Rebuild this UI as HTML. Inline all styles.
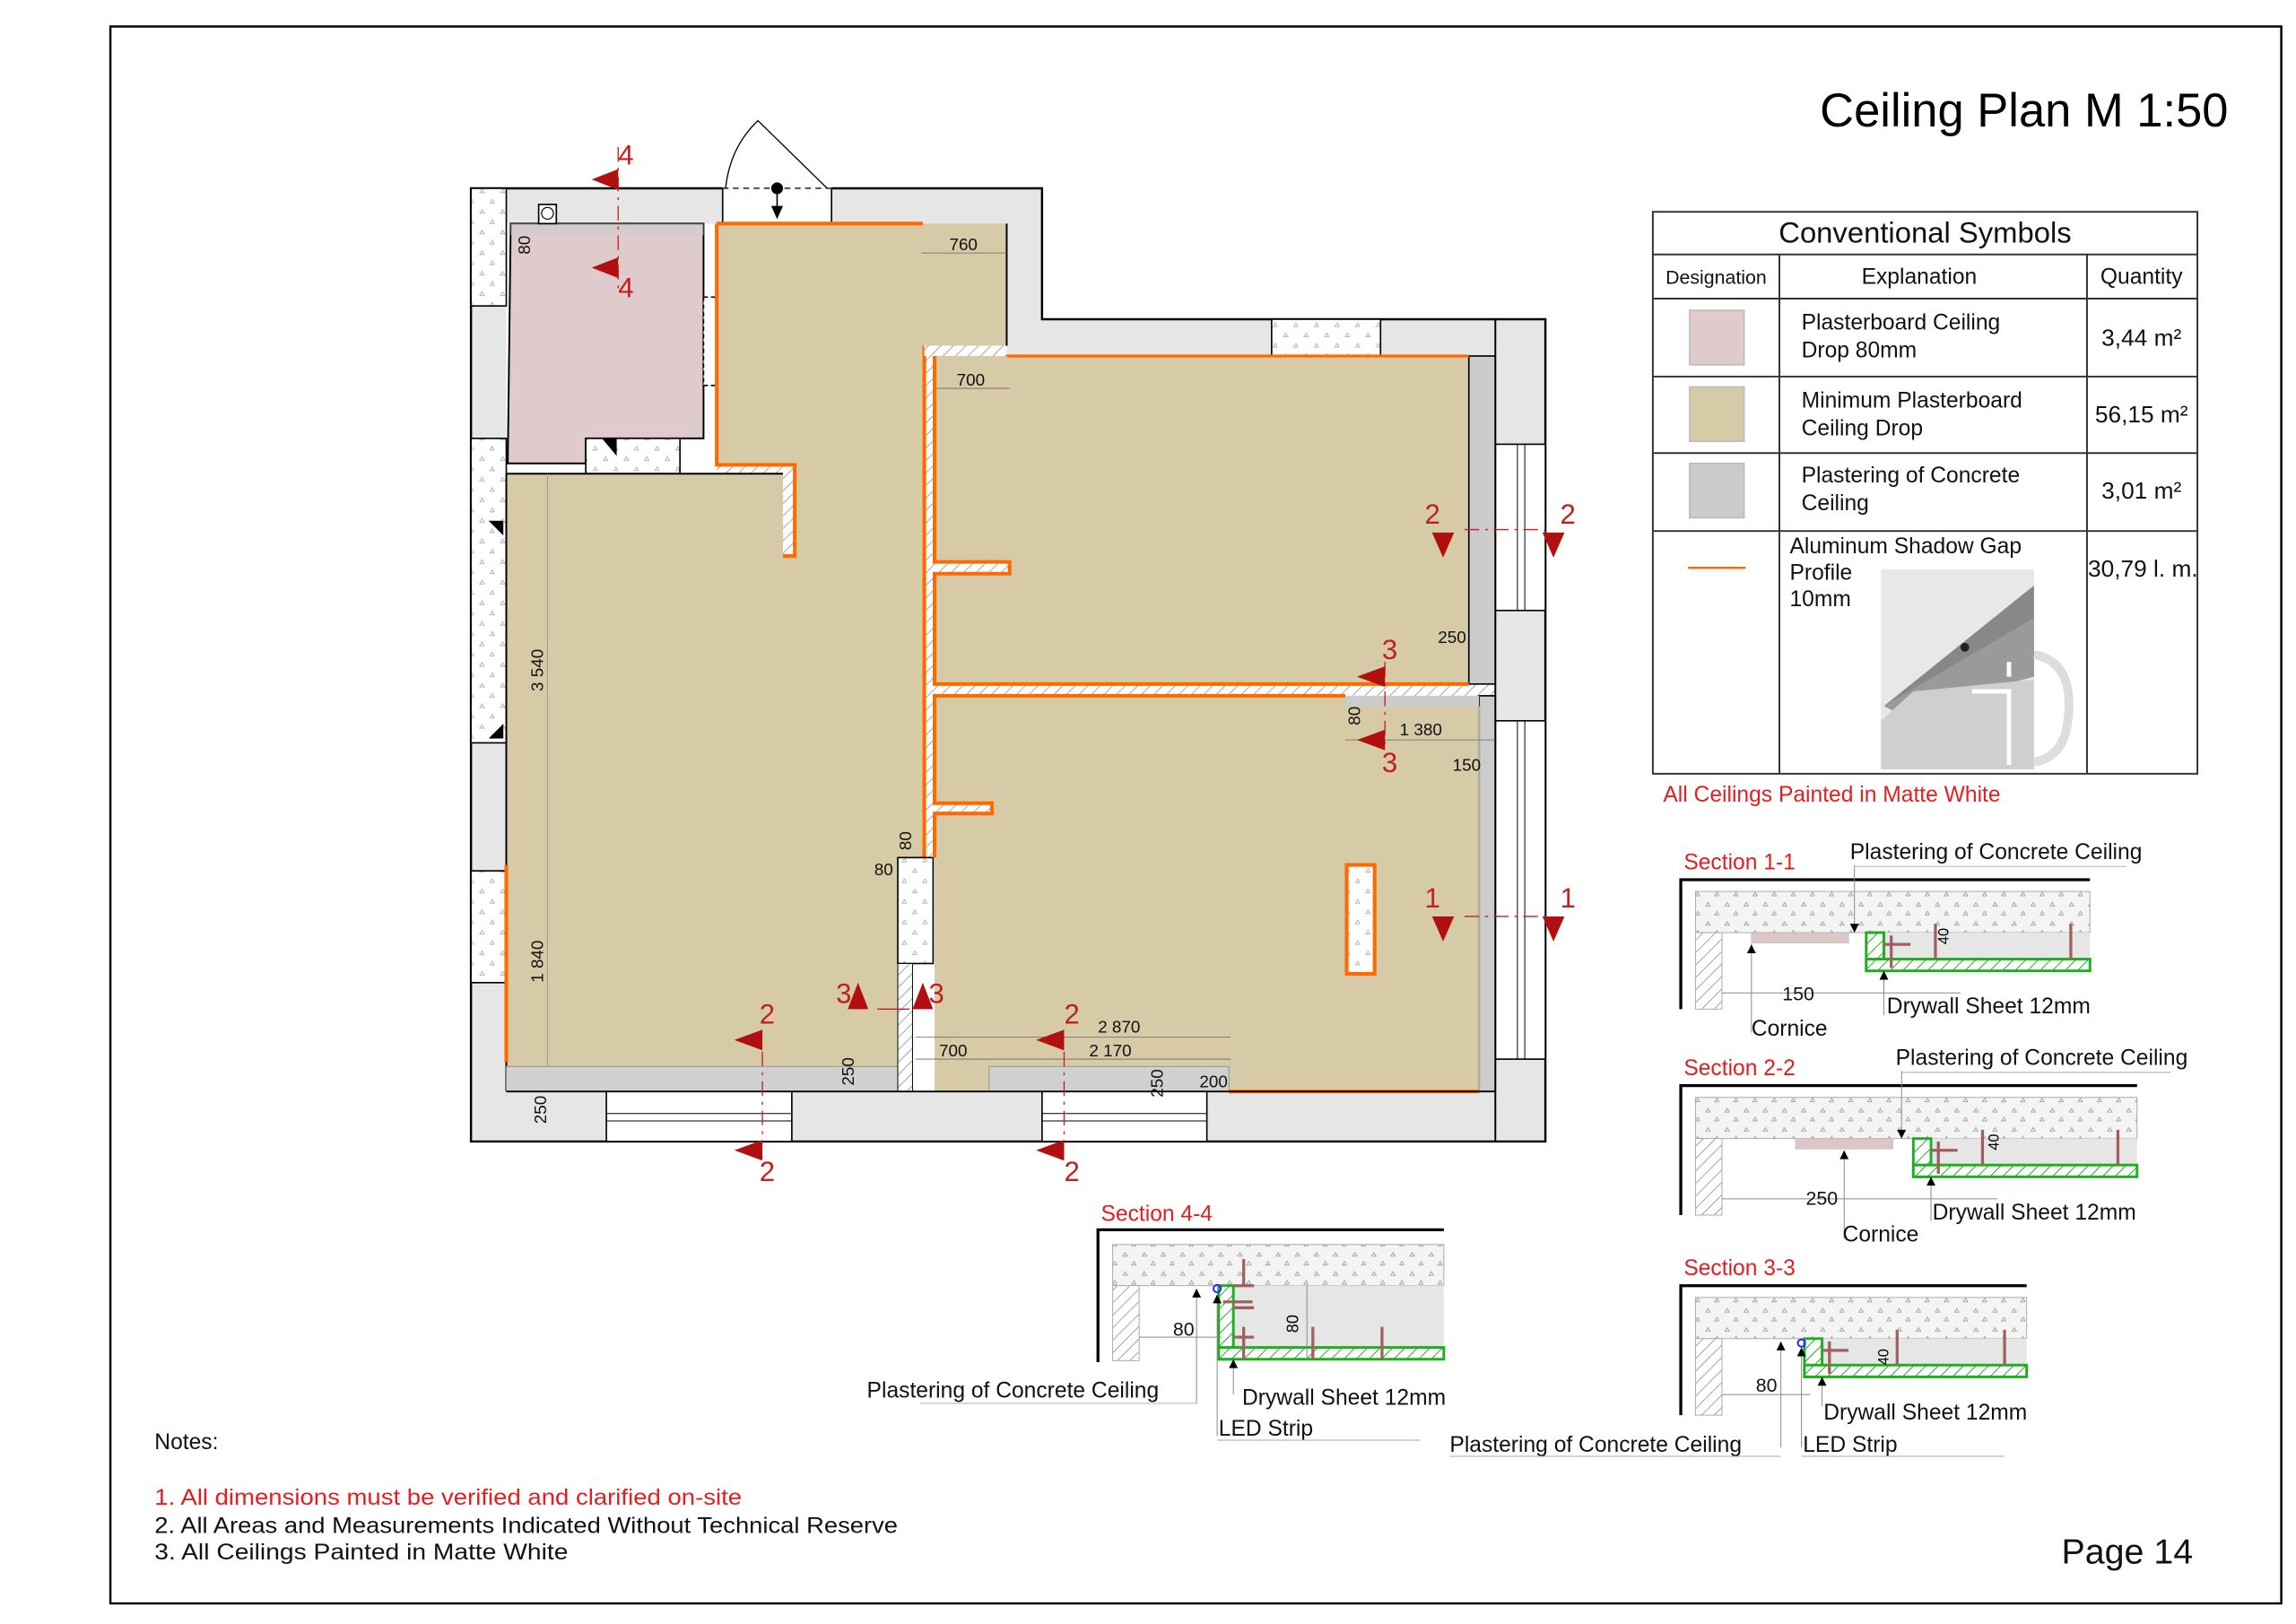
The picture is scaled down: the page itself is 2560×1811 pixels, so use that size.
<!DOCTYPE html>
<html><head><meta charset="utf-8"><style>
html,body{margin:0;padding:0;background:#fff;}
svg{display:block;}
text{font-family:"Liberation Sans",sans-serif;}
</style></head><body>
<svg width="2560" height="1811" viewBox="0 0 1560 1104" preserveAspectRatio="none" xmlns="http://www.w3.org/2000/svg">
<defs>
<pattern id="dots" width="14" height="14" patternUnits="userSpaceOnUse"><rect width="14" height="14" fill="#fff"/><path d="M4 5l1.5 -2.5l1.5 2.5z" fill="none" stroke="#aaa" stroke-width="0.5"/><path d="M11 12l1.5 -2.5l1.5 2.5z" fill="none" stroke="#aaa" stroke-width="0.5"/></pattern>
<pattern id="sdots" width="13" height="13" patternUnits="userSpaceOnUse"><rect width="13" height="13" fill="#f4f4f4"/><path d="M4 5l1.5 -2.5l1.5 2.5z" fill="none" stroke="#999" stroke-width="0.5"/><path d="M10 11l1.5 -2.5l1.5 2.5z" fill="none" stroke="#999" stroke-width="0.5"/></pattern>
<pattern id="hatch" width="6" height="6" patternUnits="userSpaceOnUse" patternTransform="rotate(45)"><rect width="6" height="6" fill="#fff"/><line x1="0" y1="0" x2="0" y2="6" stroke="#777" stroke-width="0.8"/></pattern>
<pattern id="ghatch" width="6" height="6" patternUnits="userSpaceOnUse" patternTransform="rotate(45)"><rect width="6" height="6" fill="#fff"/><line x1="0" y1="0" x2="0" y2="6" stroke="#22aa22" stroke-width="1.2"/></pattern>
</defs>
<rect width="1560" height="1104" fill="#fff"/>
<rect x="75" y="18" width="1475" height="1072" fill="none" stroke="#000" stroke-width="1.5"/>
<text x="1514" y="86" font-size="32" text-anchor="end">Ceiling Plan M 1:50</text>

<!-- PLAN -->
<polygon points="320,128 708,128 708,217 1050,217 1050,776 320,776" fill="#e6e6e6" stroke="#000" stroke-width="1.5"/>
<rect x="344" y="152" width="340" height="590" fill="#fff"/>
<rect x="628" y="242" width="388" height="500" fill="#fff"/>
<rect x="491" y="126" width="74" height="27" fill="#fff"/>
<line x1="491" y1="128" x2="491" y2="152" stroke="#000"/><line x1="565" y1="128" x2="565" y2="152" stroke="#000"/>
<line x1="491" y1="128" x2="565" y2="128" stroke="#333" stroke-dasharray="4 3"/>
<path d="M493 128 Q496 100 515 82 L562 128" fill="none" stroke="#000" stroke-width="0.8"/>
<circle cx="528" cy="128" r="4" fill="#000"/><line x1="528" y1="128" x2="528" y2="140" stroke="#000"/><path d="M524 140h8l-4 9z" fill="#000"/>
<!-- left wall windows -->
<rect x="320" y="128" width="24" height="80" fill="url(#dots)" stroke="#000"/>
<rect x="320" y="298" width="24" height="207" fill="url(#dots)" stroke="#000"/>
<rect x="320" y="592" width="24" height="76" fill="url(#dots)" stroke="#000"/>
<path d="M332 354h10v10z" fill="#000"/><path d="M332 502h10v-10z" fill="#000"/>
<rect x="864" y="217" width="74" height="25" fill="url(#dots)" stroke="#000"/>
<!-- bottom windows -->
<rect x="412" y="742" width="126" height="34" fill="#fff" stroke="#000"/>
<line x1="412" y1="757" x2="538" y2="757" stroke="#000" stroke-width="0.6"/><line x1="412" y1="762" x2="538" y2="762" stroke="#000" stroke-width="0.6"/>
<rect x="708" y="742" width="112" height="34" fill="#fff" stroke="#000"/>
<line x1="708" y1="757" x2="820" y2="757" stroke="#000" stroke-width="0.6"/><line x1="708" y1="762" x2="820" y2="762" stroke="#000" stroke-width="0.6"/>
<!-- right windows -->
<rect x="1016" y="302" width="34" height="113" fill="#fff" stroke="#000"/>
<line x1="1031" y1="302" x2="1031" y2="415" stroke="#000" stroke-width="0.6"/><line x1="1036" y1="302" x2="1036" y2="415" stroke="#000" stroke-width="0.6"/>
<rect x="1016" y="490" width="34" height="230" fill="#fff" stroke="#000"/>
<line x1="1031" y1="490" x2="1031" y2="720" stroke="#000" stroke-width="0.6"/><line x1="1036" y1="490" x2="1036" y2="720" stroke="#000" stroke-width="0.6"/>

<!-- pink -->
<polygon points="347,152 478,152 478,298 398,298 398,315 345,315" fill="#dfcacc" stroke="#000" stroke-width="1.2"/>
<rect x="347" y="152" width="131" height="8" fill="#ccc" opacity="0.6"/>
<rect x="366" y="139" width="12" height="13" fill="#fff" stroke="#000"/><circle cx="372" cy="145" r="4" fill="none" stroke="#000" stroke-width="0.7"/>
<rect x="398" y="298" width="64" height="24" fill="url(#dots)" stroke="#000"/>
<path d="M409 298h10v12z" fill="#000"/>
<rect x="478" y="202" width="9" height="60" fill="#fff" stroke="#000" stroke-dasharray="3 2"/>
<!-- beige A -->
<polygon points="487,152 684,152 684,235 628,235 628,583 610,583 610,725 344,725 344,322 532,322 532,378 540,378 540,316 487,316" fill="#d6cba6"/>
<rect x="487" y="316" width="53" height="6" fill="url(#hatch)"/><rect x="532" y="322" width="8" height="56" fill="url(#hatch)"/>
<polyline points="487,152 627,152" fill="none" stroke="#ff6a00" stroke-width="2.5"/>
<polyline points="487,152 487,316 540,316 540,378 532,378" fill="none" stroke="#ff6a00" stroke-width="2.5"/>
<line x1="344" y1="322" x2="532" y2="322" stroke="#000" stroke-width="1.2"/>
<line x1="344" y1="322" x2="344" y2="742" stroke="#000" stroke-width="1.2"/>
<line x1="344" y1="588" x2="344" y2="722" stroke="#ff6a00" stroke-width="2.5"/>
<line x1="684" y1="152" x2="684" y2="235" stroke="#000" stroke-width="1.2"/>
<line x1="372" y1="322" x2="372" y2="725" stroke="#999" stroke-width="0.6"/>
<rect x="344" y="725" width="266" height="17" fill="#d0d0d0" stroke="#888" stroke-width="0.5"/>
<!-- partitions -->
<rect x="628" y="235" width="7" height="348" fill="url(#hatch)"/>
<line x1="628" y1="235" x2="628" y2="583" stroke="#ff6a00" stroke-width="2.5"/>
<rect x="628" y="235" width="56" height="7" fill="url(#hatch)"/>
<rect x="635" y="465" width="381" height="8" fill="url(#hatch)"/>
<rect x="610" y="583" width="24" height="72" fill="url(#dots)" stroke="#000"/>
<rect x="610" y="655" width="10" height="87" fill="url(#hatch)" stroke="#000" stroke-width="0.6"/>
<!-- right top room -->
<rect x="635" y="242" width="363" height="223" fill="#d6cba6"/>
<rect x="998" y="242" width="18" height="223" fill="#ccc" stroke="#000" stroke-width="1"/>
<rect x="635" y="382" width="51" height="8" fill="url(#hatch)"/>
<polyline points="684,242 998,242" fill="none" stroke="#ff6a00" stroke-width="2"/>
<polyline points="635,242 635,382 686,382 686,390 635,390 635,465 998,465" fill="none" stroke="#ff6a00" stroke-width="2.5"/>
<!-- right bottom room -->
<rect x="635" y="473" width="370" height="269" fill="#d6cba6"/>
<rect x="1005" y="473" width="11" height="269" fill="#ccc" stroke="#000" stroke-width="1"/>
<rect x="914" y="473" width="91" height="7" fill="#ccc"/>
<rect x="672" y="725" width="163" height="17" fill="#d0d0d0" stroke="#888" stroke-width="0.5"/>
<rect x="635" y="546" width="39" height="7" fill="url(#hatch)"/>
<polyline points="914,473 635,473 635,546 674,546 674,553 635,553 635,583" fill="none" stroke="#ff6a00" stroke-width="2.5"/>
<line x1="835" y1="742" x2="1005" y2="742" stroke="#ff6a00" stroke-width="2.5"/>
<line x1="1005" y1="480" x2="1005" y2="742" stroke="#aaa" stroke-width="1"/>
<rect x="915" y="588" width="19" height="74" fill="url(#dots)" stroke="#ff6a00" stroke-width="2.5"/>
<line x1="1016" y1="217" x2="1016" y2="776" stroke="#000" stroke-width="1.2"/>
<line x1="344" y1="742" x2="1016" y2="742" stroke="#000" stroke-width="1.2"/>

<!-- dimensions -->
<g font-size="11.5" fill="#111" stroke="none">
<text x="645" y="170">760</text><line x1="626" y1="172" x2="684" y2="172" stroke="#666" stroke-width="0.5"/>
<text x="650" y="262">700</text><line x1="636" y1="264" x2="686" y2="264" stroke="#666" stroke-width="0.5"/>
<text transform="translate(369,470) rotate(-90)">3 540</text>
<text transform="translate(369,668) rotate(-90)">1 840</text>
<text transform="translate(360,173) rotate(-90)">80</text>
<text x="977" y="437">250</text>
<text transform="translate(924,493) rotate(-90)">80</text>
<text x="951" y="500">1 380</text><line x1="914" y1="503" x2="1016" y2="503" stroke="#666" stroke-width="0.5"/>
<text x="987" y="524">150</text>
<text x="594" y="595">80</text>
<text transform="translate(619,578) rotate(-90)">80</text>
<text x="746" y="702">2 870</text><line x1="622" y1="705" x2="836" y2="705" stroke="#666" stroke-width="0.5"/>
<text x="740" y="718">2 170</text><line x1="622" y1="720" x2="836" y2="720" stroke="#666" stroke-width="0.5"/>
<text x="638" y="718">700</text>
<text transform="translate(580,738) rotate(-90)">250</text>
<text transform="translate(790,746) rotate(-90)">250</text>
<text x="815" y="739">200</text>
<text transform="translate(371,764) rotate(-90)">250</text>
</g>
<!-- section markers -->
<g fill="#b01010" stroke="none">
<line x1="420" y1="100" x2="420" y2="200" stroke="#c02020" stroke-width="0.8" stroke-dasharray="10 4 2 4"/>
<path d="M402 122L420 115V129z"/><path d="M402 182L420 175V189z"/>
<path d="M973 362h15l-7.5 17z"/><path d="M1048 362h15l-7.5 17z"/>
<line x1="995" y1="360" x2="1050" y2="360" stroke="#c02020" stroke-width="0.8" stroke-dasharray="10 4 2 4"/>
<path d="M973 623h15l-7.5 17z"/><path d="M1048 623h15l-7.5 17z"/>
<line x1="995" y1="623" x2="1050" y2="623" stroke="#c02020" stroke-width="0.8" stroke-dasharray="10 4 2 4"/>
<path d="M922 460L941 453V467z"/><path d="M922 503L941 496V510z"/>
<line x1="941" y1="450" x2="941" y2="510" stroke="#c02020" stroke-width="0.8" stroke-dasharray="10 4 2 4"/>
<path d="M576 686L583 668L590 686z"/><path d="M620 686L627 668L634 686z"/>
<line x1="596" y1="686" x2="618" y2="686" stroke="#c02020" stroke-width="0.8"/>
<path d="M499 707L518 700V714z"/><path d="M499 782L518 775V789z"/>
<line x1="518" y1="715" x2="518" y2="775" stroke="#c02020" stroke-width="0.8" stroke-dasharray="10 4 2 4"/>
<path d="M704 707L723 700V714z"/><path d="M704 782L723 775V789z"/>
<line x1="723" y1="715" x2="723" y2="775" stroke="#c02020" stroke-width="0.8" stroke-dasharray="10 4 2 4"/>
</g>
<g font-size="19" fill="#c02020">
<text x="420" y="112">4</text><text x="420" y="202">4</text>
<text x="968" y="356">2</text><text x="1060" y="356">2</text>
<text x="968" y="617">1</text><text x="1060" y="617">1</text>
<text x="939" y="448">3</text><text x="939" y="525">3</text>
<text x="568" y="682">3</text><text x="631" y="682">3</text>
<text x="516" y="696">2</text><text x="516" y="803">2</text>
<text x="723" y="696">2</text><text x="723" y="803">2</text>
</g>

<!-- TABLE -->
<g stroke="#333" stroke-width="1.2" fill="none">
<rect x="1123" y="144" width="370" height="382"/>
<line x1="1123" y1="173" x2="1493" y2="173"/><line x1="1123" y1="203" x2="1493" y2="203"/>
<line x1="1123" y1="256" x2="1493" y2="256"/><line x1="1123" y1="308" x2="1493" y2="308"/><line x1="1123" y1="361" x2="1493" y2="361"/>
<line x1="1209" y1="173" x2="1209" y2="526"/><line x1="1418" y1="173" x2="1418" y2="526"/>
</g>
<rect x="1148" y="211" width="37" height="37" fill="#dfcacc" stroke="#bbb"/>
<rect x="1148" y="263" width="37" height="37" fill="#d6cba6" stroke="#bbb"/>
<rect x="1148" y="315" width="37" height="37" fill="#ccc" stroke="#bbb"/>
<line x1="1147" y1="386" x2="1186" y2="386" stroke="#ff6a00" stroke-width="1.5"/>
<g fill="#111">
<text x="1308" y="165" font-size="20" text-anchor="middle">Conventional Symbols</text>
<text x="1166" y="193" font-size="13" text-anchor="middle">Designation</text>
<text x="1304" y="193" font-size="15" text-anchor="middle">Explanation</text>
<text x="1455" y="193" font-size="15" text-anchor="middle">Quantity</text>
<text x="1224" y="224" font-size="15">Plasterboard Ceiling</text><text x="1224" y="243" font-size="15">Drop 80mm</text>
<text x="1224" y="277" font-size="15">Minimum Plasterboard</text><text x="1224" y="296" font-size="15">Ceiling Drop</text>
<text x="1224" y="328" font-size="15">Plastering of Concrete</text><text x="1224" y="347" font-size="15">Ceiling</text>
<text x="1216" y="376" font-size="15">Aluminum Shadow Gap</text><text x="1216" y="394" font-size="15">Profile</text><text x="1216" y="412" font-size="15">10mm</text>
<text x="1455" y="235" font-size="16" text-anchor="middle">3,44 m²</text>
<text x="1455" y="287" font-size="16" text-anchor="middle">56,15 m²</text>
<text x="1455" y="339" font-size="16" text-anchor="middle">3,01 m²</text>
<text x="1456" y="392" font-size="16" text-anchor="middle">30,79 l. m.</text>
</g>
<!-- profile image -->
<rect x="1278" y="387" width="104" height="136" fill="#e8e8e8"/>
<path d="M1280 480 L1382 398 L1382 460 L1300 470 Z" fill="#888"/>
<path d="M1280 480 L1382 420 L1382 460 L1290 485Z" fill="#9a9a9a"/>
<path d="M1300 470 L1382 462 L1382 523 L1278 523 L1278 490Z" fill="#cfcfcf"/>
<path d="M1340 470 h25 v50 M1365 460 v-10" stroke="#fff" stroke-width="3" fill="none"/>
<circle cx="1335" cy="440" r="3" fill="#222"/>
<path d="M1382 445 Q1410 450 1405 490 Q1402 515 1382 518" stroke="#ddd" stroke-width="6" fill="none"/>
<text x="1130" y="545" font-size="15" fill="#e02020">All Ceilings Painted in Matte White</text>

<!-- SECTION 1-1 -->
<g transform="translate(1142,598)">
<path d="M0 88V0H278" fill="none" stroke="#000" stroke-width="2"/>
<rect x="10" y="8" width="268" height="28" fill="url(#sdots)" stroke="#aaa" stroke-width="0.6"/>
<rect x="10" y="36" width="18" height="52" fill="url(#hatch)" stroke="#aaa" stroke-width="0.6"/>
<rect x="48" y="36" width="66" height="7" fill="#dcc6c6" stroke="#bbb" stroke-width="0.5"/>
<rect x="138" y="36" width="140" height="18" fill="#e6e6e6"/>
<rect x="126" y="36" width="12" height="26" fill="url(#ghatch)" stroke="#1fae1f" stroke-width="1.8"/>
<rect x="126" y="54" width="152" height="8" fill="url(#ghatch)" stroke="#1fae1f" stroke-width="1.8"/>
<path d="M138 44h18M143 38v22M173 30v24M265 30v24" stroke="#a06060" stroke-width="2"/>
<line x1="28" y1="77" x2="190" y2="77" stroke="#888" stroke-width="0.6"/>
<line x1="48" y1="44" x2="48" y2="104" stroke="#888" stroke-width="0.6"/>
<line x1="118" y1="-10" x2="118" y2="36" stroke="#888" stroke-width="0.6"/>
<line x1="138" y1="62" x2="138" y2="92" stroke="#888" stroke-width="0.6"/>
<path d="M115 30h6l-3 6z M45 50h6l-3-6z M135 68h6l-3-6z" fill="#000"/>
<text x="182" y="44" font-size="10" transform="rotate(-90 182 44)">40</text>
</g>
<g font-size="15" fill="#111">
<text x="1144" y="591" fill="#e02020">Section 1-1</text>
<text x="1257" y="584">Plastering of Concrete Ceiling</text>
<line x1="1260" y1="589" x2="1445" y2="589" stroke="#aaa" stroke-width="0.6"/>
<text x="1211" y="680" font-size="13">150</text>
<text x="1282" y="689">Drywall Sheet 12mm</text>
<text x="1190" y="704">Cornice</text>
</g>

<!-- SECTION 2-2 -->
<g transform="translate(1142,738)">
<path d="M0 88V0H310" fill="none" stroke="#000" stroke-width="2"/>
<rect x="10" y="8" width="300" height="28" fill="url(#sdots)" stroke="#aaa" stroke-width="0.6"/>
<rect x="10" y="36" width="18" height="52" fill="url(#hatch)" stroke="#aaa" stroke-width="0.6"/>
<rect x="78" y="36" width="66" height="7" fill="#dcc6c6" stroke="#bbb" stroke-width="0.5"/>
<rect x="170" y="36" width="140" height="18" fill="#e6e6e6"/>
<rect x="158" y="36" width="12" height="26" fill="url(#ghatch)" stroke="#1fae1f" stroke-width="1.8"/>
<rect x="158" y="54" width="152" height="8" fill="url(#ghatch)" stroke="#1fae1f" stroke-width="1.8"/>
<path d="M170 44h18M175 38v22M205 30v24M297 30v24" stroke="#a06060" stroke-width="2"/>
<line x1="28" y1="77" x2="215" y2="77" stroke="#888" stroke-width="0.6"/>
<line x1="111" y1="44" x2="111" y2="104" stroke="#888" stroke-width="0.6"/>
<line x1="150" y1="-10" x2="150" y2="36" stroke="#888" stroke-width="0.6"/>
<line x1="170" y1="62" x2="170" y2="92" stroke="#888" stroke-width="0.6"/>
<path d="M147 30h6l-3 6z M108 50h6l-3-6z M167 68h6l-3-6z" fill="#000"/>
<text x="216" y="44" font-size="10" transform="rotate(-90 216 44)">40</text>
</g>
<g font-size="15" fill="#111">
<text x="1144" y="731" fill="#e02020">Section 2-2</text>
<text x="1288" y="724">Plastering of Concrete Ceiling</text>
<line x1="1292" y1="729" x2="1475" y2="729" stroke="#aaa" stroke-width="0.6"/>
<text x="1227" y="819" font-size="13">250</text>
<text x="1313" y="829">Drywall Sheet 12mm</text>
<text x="1252" y="844">Cornice</text>
</g>

<!-- SECTION 3-3 -->
<g transform="translate(1142,874)">
<path d="M0 88V0H235" fill="none" stroke="#000" stroke-width="2"/>
<rect x="10" y="8" width="225" height="28" fill="url(#sdots)" stroke="#aaa" stroke-width="0.6"/>
<rect x="10" y="36" width="18" height="52" fill="url(#hatch)" stroke="#aaa" stroke-width="0.6"/>
<rect x="96" y="36" width="139" height="18" fill="#e6e6e6"/>
<rect x="84" y="36" width="12" height="26" fill="url(#ghatch)" stroke="#1fae1f" stroke-width="1.8"/>
<rect x="84" y="54" width="151" height="8" fill="url(#ghatch)" stroke="#1fae1f" stroke-width="1.8"/>
<path d="M96 44h18M101 38v22M147 30v24M241 30v0M220 30v24" stroke="#a06060" stroke-width="2"/>
<circle cx="82" cy="39" r="2.5" fill="none" stroke="#22f" stroke-width="1.2"/>
<line x1="28" y1="74" x2="88" y2="74" stroke="#888" stroke-width="0.6"/>
<line x1="68" y1="38" x2="68" y2="110" stroke="#888" stroke-width="0.6"/>
<line x1="82" y1="42" x2="82" y2="110" stroke="#888" stroke-width="0.6"/>
<line x1="96" y1="62" x2="96" y2="82" stroke="#888" stroke-width="0.6"/>
<path d="M65 44h6l-3-6z M79 48h6l-3-6z M93 68h6l-3-6z" fill="#000"/>
<text x="141" y="54" font-size="10" transform="rotate(-90 141 54)">40</text>
</g>
<g font-size="15" fill="#111">
<text x="1144" y="867" fill="#e02020">Section 3-3</text>
<text x="1193" y="946" font-size="13">80</text>
<text x="1239" y="965">Drywall Sheet 12mm</text>
<text x="1225" y="987">LED Strip</text>
<line x1="1224" y1="990" x2="1362" y2="990" stroke="#aaa" stroke-width="0.6"/>
<text x="985" y="987">Plastering of Concrete Ceiling</text>
<line x1="985" y1="990" x2="1210" y2="990" stroke="#aaa" stroke-width="0.6"/>
</g>

<!-- SECTION 4-4 -->
<g transform="translate(746,836)">
<path d="M0 90V0H235" fill="none" stroke="#000" stroke-width="2"/>
<rect x="10" y="10" width="225" height="28" fill="url(#sdots)" stroke="#aaa" stroke-width="0.6"/>
<rect x="10" y="38" width="18" height="51" fill="url(#hatch)" stroke="#aaa" stroke-width="0.6"/>
<rect x="92" y="38" width="143" height="42" fill="#e6e6e6"/>
<rect x="82" y="38" width="10" height="50" fill="url(#ghatch)" stroke="#1fae1f" stroke-width="1.8"/>
<rect x="82" y="80" width="153" height="8" fill="url(#ghatch)" stroke="#1fae1f" stroke-width="1.8"/>
<path d="M92 38h14M92 53h14M92 73h14M85 49h20M99 20v18M99 66v22M146 66v22M193 66v22" stroke="#a06060" stroke-width="2"/>
<circle cx="81" cy="40" r="2.5" fill="none" stroke="#22f" stroke-width="1.2"/>
<line x1="28" y1="73" x2="84" y2="73" stroke="#888" stroke-width="0.6"/>
<line x1="67" y1="40" x2="67" y2="118" stroke="#888" stroke-width="0.6"/>
<line x1="81" y1="44" x2="81" y2="140" stroke="#888" stroke-width="0.6"/>
<line x1="92" y1="88" x2="92" y2="112" stroke="#888" stroke-width="0.6"/>
<line x1="142" y1="38" x2="142" y2="88" stroke="#888" stroke-width="0.6"/>
<path d="M64 46h6l-3-6z M78 50h6l-3-6z M89 94h6l-3-6z" fill="#000"/>
<text x="136" y="70" font-size="11" transform="rotate(-90 136 70)">80</text>
</g>
<g font-size="15" fill="#111">
<text x="748" y="830" fill="#e02020">Section 4-4</text>
<text x="797" y="908" font-size="13">80</text>
<text x="589" y="950">Plastering of Concrete Ceiling</text>
<line x1="625" y1="954" x2="813" y2="954" stroke="#aaa" stroke-width="0.6"/>
<text x="844" y="955">Drywall Sheet 12mm</text>
<text x="828" y="976">LED Strip</text>
<line x1="827" y1="979" x2="965" y2="979" stroke="#aaa" stroke-width="0.6"/>
</g>

<!-- NOTES -->
<g font-size="15" fill="#111">
<text x="105" y="985">Notes:</text>
<text x="105" y="1023" fill="#e02020" textLength="399" lengthAdjust="spacingAndGlyphs">1. All dimensions must be verified and clarified on-site</text>
<text x="105" y="1042" textLength="505" lengthAdjust="spacingAndGlyphs">2. All Areas and Measurements Indicated Without Technical Reserve</text>
<text x="105" y="1060" textLength="281" lengthAdjust="spacingAndGlyphs">3. All Ceilings Painted in Matte White</text>
</g>
<text x="1490" y="1063" font-size="24" text-anchor="end" fill="#111">Page 14</text>
</svg>
</body></html>
